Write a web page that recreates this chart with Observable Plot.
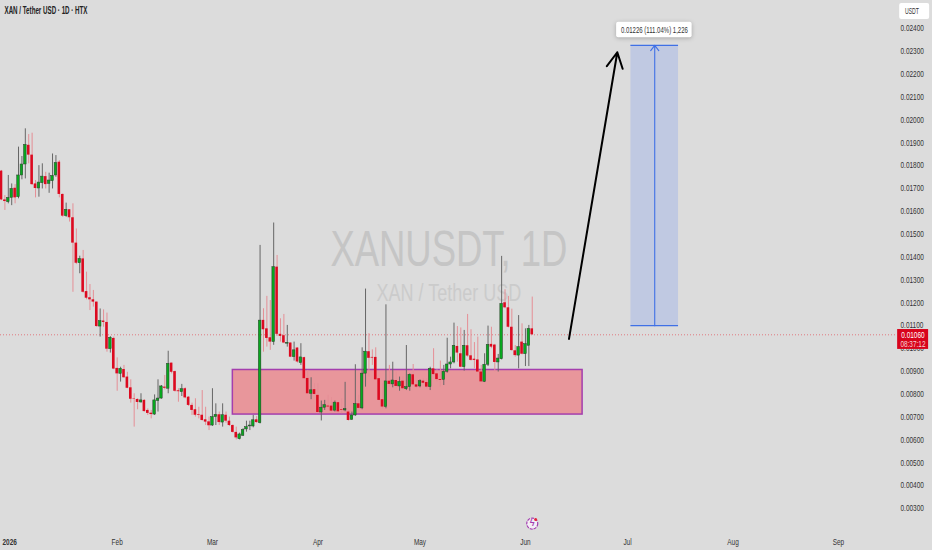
<!DOCTYPE html>
<html><head><meta charset="utf-8">
<script src="https://cdn.jsdelivr.net/npm/d3@7"></script>
<script src="https://cdn.jsdelivr.net/npm/@observablehq/plot@0.6"></script>
<style>html,body{margin:0;padding:0;background:#dcdcdc}svg{display:block}</style>
</head><body><div id="chart"></div>
<script>
// Prices in ticks (1 tick = 0.00001 USDT), one candle per day from 2025-12-29
const opens=[1776,1650,1640,1659,1701,1662,1757,1805,1889,1846,1720,1700,1723,1752,1720,1732,1757,1815,1674,1579,1607,1572,1461,1373,1392,1249,1222,1213,1203,1096,1120,1114,997,1044,913,889,908,875,828,780,777,764,773,729,717,711,770,781,831,824,936,899,815,809,824,787,751,732,711,708,688,679,663,700,710,676,708,682,663,633,603,618,646,659,659,688,673,1123,1086,1047,1028,1356,1062,1056,1021,1024,962,1002,936,960,869,802,820,795,720,741,748,748,728,763,732,729,722,688,707,758,738,890,986,961,961,868,776,744,857,843,860,834,857,822,831,885,841,834,857,851,831,911,889,864,863,898,930,939,1009,977,918,1012,968,953,950,897,854,929,1018,1015,939,953,1200,1178,1093,990,969,1028,975,1012,1086];
const highs=[1779,1669,1757,1720,1717,1881,1840,1961,1936,1942,1735,1800,1808,1771,1767,1851,1844,1822,1676,1636,1607,1633,1523,1404,1429,1334,1280,1254,1203,1173,1169,1155,1052,1050,959,918,926,896,863,802,780,802,776,736,729,797,863,838,882,988,936,901,824,843,828,790,761,780,743,816,743,700,824,758,722,758,722,700,666,656,630,649,682,682,707,702,1451,1174,1228,1210,1549,1407,1130,1149,1101,1024,1028,1003,1021,962,904,872,846,846,770,773,795,785,770,766,780,852,729,722,929,795,1003,1260,1065,994,1003,868,846,1191,926,940,897,875,875,1013,889,930,860,863,867,867,918,999,907,945,926,1045,962,1111,1096,1090,1079,1149,1082,1026,1050,926,977,1098,1093,1018,974,1403,1257,1228,1172,1013,1144,1108,1086,1101,1225];
const lows=[1647,1604,1633,1625,1633,1655,1738,1742,1808,1713,1659,1662,1698,1698,1679,1698,1749,1659,1574,1574,1553,1246,1367,1327,1242,1213,1166,1181,1093,1050,1093,984,980,907,813,853,870,824,761,656,732,761,722,707,692,707,722,778,819,802,889,809,765,790,780,746,707,700,692,682,663,641,659,663,663,656,673,659,630,600,600,615,634,641,653,673,670,984,1006,992,1014,1053,1028,1021,1006,960,945,936,926,865,799,776,797,717,683,729,729,722,722,717,715,723,683,685,703,735,732,831,875,926,860,770,736,736,831,828,824,813,816,816,813,837,824,828,843,824,816,882,853,831,838,892,911,933,940,916,901,962,945,911,895,851,851,921,999,897,897,950,1174,1090,988,962,911,972,921,921,1057];
const closes=[1650,1643,1659,1698,1659,1757,1805,1891,1846,1717,1700,1726,1752,1717,1735,1755,1812,1674,1579,1607,1572,1461,1373,1392,1246,1220,1213,1203,1096,1120,1114,997,1047,910,889,911,872,826,778,778,764,773,724,716,711,773,781,834,826,933,896,813,811,822,784,751,729,708,708,685,678,662,700,710,676,708,682,663,633,609,624,644,656,663,686,676,1122,1082,1044,1028,1356,1062,1053,1024,1025,962,992,941,961,868,802,817,799,720,741,752,744,726,763,723,729,735,685,707,757,738,890,986,957,958,863,773,744,856,843,860,834,854,824,831,885,841,831,857,848,831,911,886,864,860,898,930,939,1012,980,918,1012,967,948,948,897,854,929,1016,1006,939,956,1195,1178,1093,991,969,1006,975,1019,1086,1060];

const tick = 1e-5;
const dayMs = 864e5;
const jan1 = Date.UTC(2026,0,1);
const day = d => new Date(jan1 + d*dayMs);

const candles = opens.map((o,i)=>({date:day(i-3),open:o*tick,high:highs[i]*tick,low:lows[i]*tick,close:closes[i]*tick,up:closes[i]>=o}));
const rising = candles.filter(c=>c.up), falling = candles.filter(c=>!c.up);
const bodyHalf = 0.38;

const priceTicks = d3.range(3,25).map(v=>v/1000);
const monthDates = [0,1,2,3,4,5,6,7,8].map(m=>new Date(Date.UTC(2026,m,1)));
const monthLabels = ["2026","Feb","Mar","Apr","May","Jun","Jul","Aug","Sep"];

const lastPrice = 0.0106, lastCountdown = "08:37:12";
const zone = {d1:65,d2:167.8,p1:0.00711,p2:0.00906};
const target = {d1:182,d2:196,dm:189,p1:0.011,p2:0.02326};
const arrow = {d1:163.8,p1:0.01042,d2:178,p2:0.02296};
const targetLabel = "0.01226 (111.04%) 1,226";
const watermark = "XANUSDT, 1D", subWatermark = "XAN / Tether USD", title = "XAN / Tether USD · 1D · HTX";

const font = "'Liberation Sans',sans-serif";

const chart = Plot.plot({
  width:932,height:550,
  marginTop:0,marginLeft:0,marginRight:42,marginBottom:18,
  style:{background:"#dcdcdc",fontFamily:font,fontSize:"8px",overflow:"visible"},
  x:{type:"utc",domain:[day(-3.294),day(258.3)],range:[0,890]},
  y:{domain:[0.00195,0.025225],range:[532,0]},
  marks:[
    Plot.text([watermark],{x:day(128.5),y:0.01433,text:d=>d,fontSize:50,fill:"#c5c5c5"}),
    Plot.text([subWatermark],{x:day(128.5),y:0.01241,text:d=>d,fontSize:23,fill:"#cbcbcb"}),
    Plot.axisY({anchor:"right",ticks:priceTicks,tickFormat:d=>d.toFixed(5),tickSize:0,tickPadding:10,label:null,fill:"#333",fontSize:8.5}),
    Plot.axisX({anchor:"bottom",ticks:monthDates,tickFormat:(d,i)=>monthLabels[i],tickSize:0,tickPadding:6,label:null,fill:"#333",fontSize:8.5}),
    Plot.ruleY([lastPrice],{x1:day(-3.294),x2:day(260.4),stroke:"#e2424c",strokeWidth:0.8,strokeDasharray:"1 2",strokeOpacity:0.8}),
    Plot.rect([zone],{x1:d=>day(d.d1),x2:d=>day(d.d2),y1:"p1",y2:"p2",fill:"#e8969b",stroke:"#a43eae",strokeWidth:1.5}),
    Plot.ruleX(falling,{x:"date",y1:"low",y2:"high",stroke:"#e58f96",strokeWidth:1}),
    Plot.ruleX(rising,{x:"date",y1:"low",y2:"high",stroke:"#666",strokeWidth:1}),
    Plot.rect(falling,{x1:d=>new Date(+d.date-bodyHalf*dayMs),x2:d=>new Date(+d.date+bodyHalf*dayMs),y1:"open",y2:"close",fill:"#dc0a20"}),
    Plot.rect(rising,{x1:d=>new Date(+d.date-bodyHalf*dayMs),x2:d=>new Date(+d.date+bodyHalf*dayMs),y1:"open",y2:"close",fill:"#08a81f",stroke:"#2c3e2c",strokeWidth:0.5}),
    Plot.arrow([arrow],{x1:d=>day(d.d1),y1:"p1",x2:d=>day(d.d2),y2:"p2",stroke:"#000",strokeWidth:2,headLength:13,headAngle:55,bend:0}),
    Plot.rect([target],{x1:d=>day(d.d1),x2:d=>day(d.d2),y1:"p1",y2:"p2",fill:"#c0c9e2"}),
    Plot.ruleY([target.p1,target.p2],{x1:day(target.d1),x2:day(target.d2),stroke:"#3f70e6",strokeWidth:1.2}),
    Plot.arrow([target],{x1:day(target.dm),y1:"p1",x2:day(target.dm),y2:"p2",stroke:"#3f70e6",strokeWidth:1.1,headLength:9,headAngle:75,bend:0}),
    Plot.rect([0],{x1:day(177.8),x2:day(200),y1:0.02359,y2:0.024276,fill:"#fff",rx:2,imageFilter:"drop-shadow(0 1px 2px rgba(0,0,0,.25))"}),
    Plot.text([targetLabel],{x:day(188.9),y:0.02394,text:d=>d,fill:"#333",fontSize:8.5}),
    Plot.rect([0],{x1:day(261),x2:day(269.8),y1:0.02439,y2:0.02509,fill:"#fff",rx:2}),
    Plot.text(["USDT"],{x:day(264.6),y:0.02474,text:d=>d,fill:"#333",fontSize:8.5}),
    Plot.rect([0],{x1:day(260.4),x2:day(269.5),y1:0.00996,y2:0.01083,fill:"#d8041c"}),
    Plot.text([lastPrice.toFixed(5)],{x:day(264.9),y:lastPrice,text:d=>d,fill:"#fff",fontSize:8.5}),
    Plot.text([lastCountdown],{x:day(264.9),y:0.01017,text:d=>d,fill:"#f6d0d4",fontSize:8.5}),
    Plot.text([title],{frameAnchor:"top-left",dx:4,dy:6,text:d=>d,fill:"#222",fontSize:10,fontWeight:600,lineAnchor:"top",textAnchor:"start"}),
    Plot.dot([0],{x:day(153),y:0.00234,r:5.5,fill:"#f4eef6",stroke:"#a33db0",strokeWidth:1.2,strokeDasharray:"3 1"}),
    Plot.text(["ϟ"],{x:day(153),y:0.00234,text:d=>d,fill:"#a33db0",fontSize:9,fontWeight:700}),
    Plot.dot([0],{x:day(154),y:0.00252,r:1.5,fill:"#e5243b"})
  ]
});
document.getElementById("chart").appendChild(chart);

// The reference's labels are horizontally condensed: fit the real text to those widths.
const fittedWidths = new Map([[watermark,237],[subWatermark,145],[title,83],[targetLabel,67],["USDT",14]]);
chart.querySelectorAll("text").forEach(t => {
  const s = t.textContent;
  if (s === "ϟ") return;
  const w = t.getComputedTextLength();
  const target = fittedWidths.get(s) ?? w * 0.76;
  t.setAttribute("textLength", target);
  t.setAttribute("lengthAdjust", "spacingAndGlyphs");
  if (s === "2026") { t.setAttribute("font-weight", "700"); t.setAttribute("dx", "-2"); }
});
</script></body></html>
